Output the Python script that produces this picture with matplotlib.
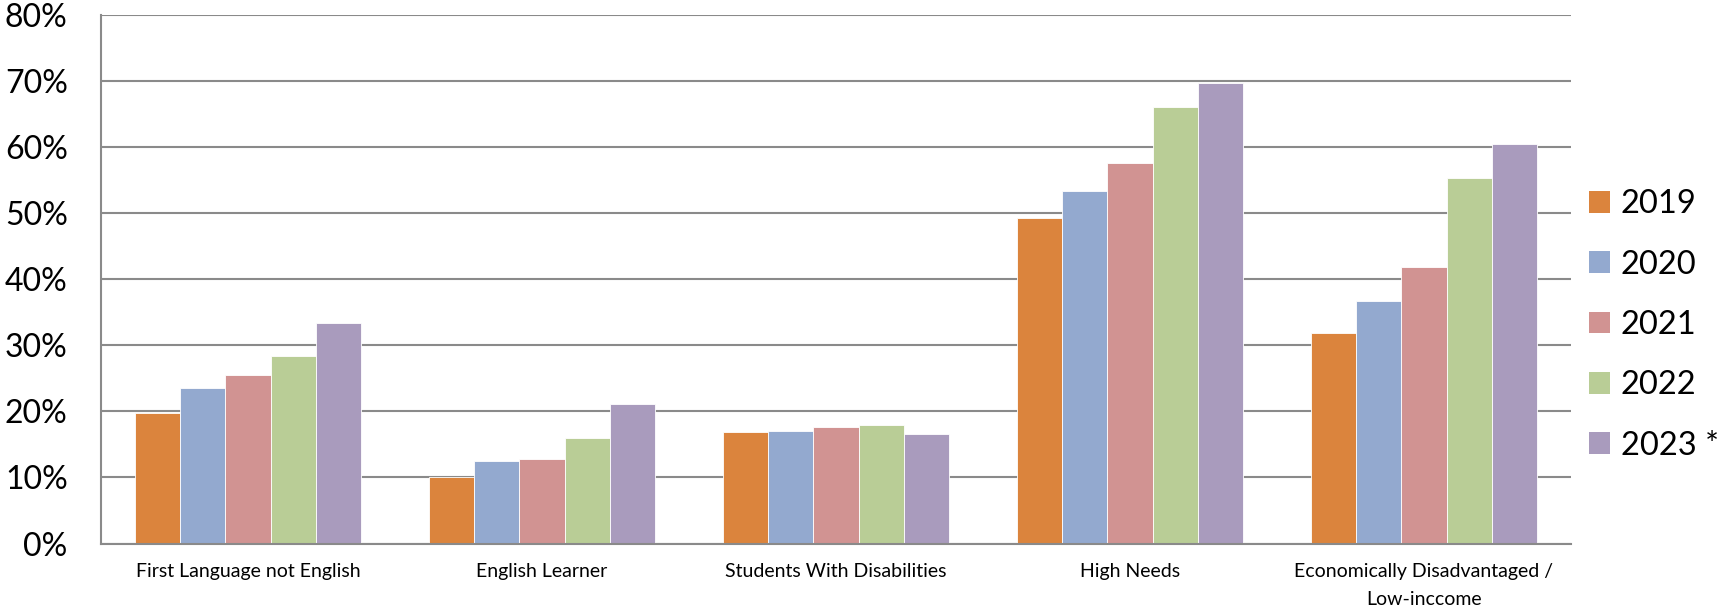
import matplotlib
matplotlib.use("Agg")
import matplotlib.pyplot as plt
import numpy as np
from matplotlib.patches import Patch

plt.rcParams['font.family'] = ['Lato', 'DejaVu Sans']

categories = ["First Language not English", "English Learner", "Students With Disabilities",
              "High Needs", "Economically Disadvantaged /\nLow-inccome"]
years = ["2019", "2020", "2021", "2022", "2023 *"]
v2019 = [19.8, 10.0, 16.9, 49.3, 31.9]
v2020 = [23.6, 12.5, 17.0, 53.4, 36.7]
v2021 = [25.5, 12.8, 17.6, 57.5, 41.9]
v2022 = [28.3, 15.9, 17.9, 66.1, 55.3]
v2023 = [33.4, 21.1, 16.6, 69.7, 60.4]
yticks = [0, 10, 20, 30, 40, 50, 60, 70, 80]
ytick_labels = ["0%", "10%", "20%", "30%", "40%", "50%", "60%", "70%", "80%"]

colors = ["#DB843D", "#93A9CF", "#D19392", "#B9CD96", "#A99BBD"]
series = [v2019, v2020, v2021, v2022, v2023]

fig = plt.figure(figsize=(17.19, 6.06), dpi=100)
ax = fig.add_axes([101/1719, 62.5/606, (1571-101)/1719, 528.8/606])

x = np.arange(len(categories))
bw = 0.154
for i, (vals, c) in enumerate(zip(series, colors)):
    ax.bar(x + (i - 2) * bw, vals, width=bw, color=c, edgecolor="white", linewidth=0.6,
           label=years[i], zorder=3)

ax.set_xlim(-0.5, len(categories) - 0.5)
ax.set_ylim(0, 80)
ax.set_yticks(yticks)
ax.set_yticklabels(ytick_labels, fontsize=23)
ax.set_xticks(x)
ax.set_xticklabels(categories, fontsize=14, linespacing=1.8)
ax.tick_params(axis='y', length=0, pad=24)
ax.tick_params(axis='x', length=0, pad=14)
ax.grid(axis='y', color="#8A8A8A", linewidth=1.5, zorder=0)
for s in ["top", "right"]:
    ax.spines[s].set_visible(False)
for s in ["left", "bottom"]:
    ax.spines[s].set_color("#8A8A8A")
    ax.spines[s].set_linewidth(1.5)
ax.spines["bottom"].set_zorder(4)

handles = [Patch(facecolor=c, edgecolor="none") for c in colors]
fig.legend(handles, years, loc="center left", bbox_to_anchor=(1589/1719, 1 - 325/606),
           frameon=False, fontsize=23.5, handlelength=0.64, handleheight=0.64,
           handletextpad=0.33, labelspacing=0.93, borderpad=0, borderaxespad=0)

fig.savefig("out.png", dpi=100)
